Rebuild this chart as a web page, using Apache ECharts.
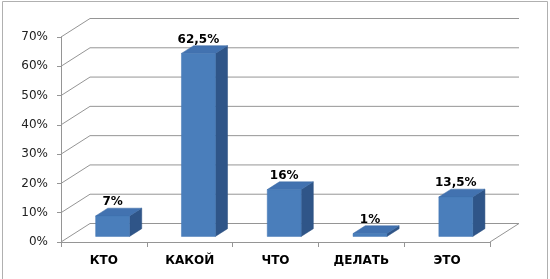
<!DOCTYPE html>
<html>
<head>
<meta charset="utf-8">
<script src="https://cdn.jsdelivr.net/npm/echarts@6/dist/echarts.min.js"></script>
<style>html,body{margin:0;padding:0;background:#fff;}#c{width:550px;height:279px;}</style>
</head>
<body>
<div id="c"></div>
<script>
var categories = ['КТО', 'КАКОЙ', 'ЧТО', 'ДЕЛАТЬ', 'ЭТО'];
var values = [7, 62.5, 16, 1, 13.5];
var yTicks = [0, 10, 20, 30, 40, 50, 60, 70];

var DX = 29, DY = -18.5;     // depth offset of the back wall
var T0 = 0.3, T1 = 0.72;     // bar depth range (fraction)
var BW = 0.395;              // bar width as fraction of band
var GRID = '#959595';

var chart = echarts.init(document.getElementById('c'), null, {renderer: 'canvas'});

function fmt(v) { return String(v).replace('.', ',') + '%'; }

var option = {
  backgroundColor: '#fff',
  animation: false,
  grid: {left: 61, right: 60, top: 37, bottom: 37},
  graphic: [{
    type: 'polyline',
    shape: {points: [[2.5, 279], [2.5, 1.5], [547.5, 1.5], [547.5, 279]]},
    style: {stroke: '#b0b0b0', lineWidth: 1, fill: null},
    silent: true
  }],
  xAxis: {
    type: 'category',
    data: categories,
    axisLine: {show: true, lineStyle: {color: GRID, width: 1}},
    axisTick: {show: true, length: 5, alignWithLabel: false, lineStyle: {color: GRID}},
    axisLabel: {fontFamily: 'DejaVu Sans', fontSize: 12, fontWeight: 'bold', color: '#000', margin: 13},
    splitLine: {show: false}
  },
  yAxis: {
    type: 'value',
    min: 0, max: 70, interval: 10,
    axisLine: {show: true, lineStyle: {color: GRID, width: 1}},
    axisTick: {show: true, length: 4, lineStyle: {color: GRID}},
    axisLabel: {fontFamily: 'DejaVu Sans', fontSize: 12, color: '#222', margin: 13, formatter: '{value}%'},
    splitLine: {show: false}
  },
  series: [
    {
      type: 'custom',
      z: 1,
      silent: true,
      data: yTicks.map(function (t) { return [0, t]; }),
      renderItem: function (params, api) {
        var cs = params.coordSys;
        var p = api.coord([0, api.value(1)]);
        var yf = p[1];
        var xl = cs.x, xr = cs.x + cs.width;
        var children = [
          {type: 'line', shape: {x1: xl, y1: yf, x2: xl + DX, y2: yf + DY}, style: {stroke: GRID, lineWidth: 1}},
          {type: 'line', shape: {x1: xl + DX, y1: yf + DY, x2: xr + DX, y2: yf + DY}, style: {stroke: GRID, lineWidth: 1}}
        ];
        if (api.value(1) === 0) {
          children.push({type: 'line', shape: {x1: xr, y1: yf, x2: xr + DX, y2: yf + DY}, style: {stroke: GRID, lineWidth: 1}});
        }
        return {type: 'group', children: children};
      }
    },
    {
      type: 'custom',
      z: 3,
      data: values.map(function (v, i) { return [i, v]; }),
      renderItem: function (params, api) {
        var idx = api.value(0), v = api.value(1);
        var top = api.coord([idx, v]);
        var base = api.coord([idx, 0]);
        var band = api.size([1, 0])[0];
        var w = band * BW;
        var fx0 = top[0] - w / 2 + DX * T0, fx1 = fx0 + w;
        var fyT = top[1] + DY * T0, fyB = base[1] + DY * T0;
        var ddx = DX * (T1 - T0), ddy = DY * (T1 - T0);
        var children = [
          {type: 'polygon', shape: {points: [[fx1, fyB], [fx1 + ddx, fyB + ddy], [fx1 + ddx, fyT + ddy], [fx1, fyT]]},
           style: {fill: '#2F5588', stroke: '#2b4e7e', lineWidth: 0.5}},
          {type: 'polygon', shape: {points: [[fx0, fyT], [fx1, fyT], [fx1 + ddx, fyT + ddy], [fx0 + ddx, fyT + ddy]]},
           style: {fill: '#4272B0', stroke: '#3d6aa5', lineWidth: 0.5}},
          {type: 'rect', shape: {x: fx0, y: fyT, width: w, height: fyB - fyT},
           style: {fill: '#4A7EBB', stroke: '#4276b4', lineWidth: 0.5}},
          {type: 'text', x: fx0 + w / 2, y: fyT + ddy - 6,
           style: {text: fmt(v), fontFamily: 'DejaVu Sans', fontSize: 12, fontWeight: 'bold', fill: '#000',
                   align: 'center', verticalAlign: 'middle'}}
        ];
        return {type: 'group', children: children};
      }
    }
  ]
};
chart.setOption(option);
</script>
</body>
</html>
